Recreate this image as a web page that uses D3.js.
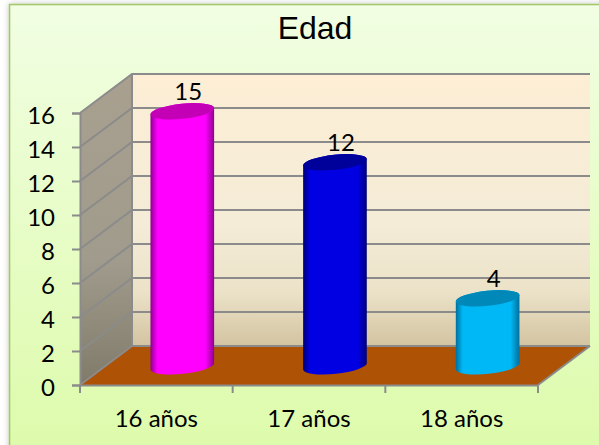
<!DOCTYPE html>
<html>
<head>
<meta charset="utf-8">
<script src="https://cdn.jsdelivr.net/npm/d3@7"></script>
<style>
    html, body { margin: 0; padding: 0; background: #fff; }
    svg { display: block; }
    text { font-family: Lato, "Open Sans", sans-serif; fill: #000; }
</style>
</head>
<body>
<svg id="chart" width="599" height="445"></svg>
<script>
const categories = ["16 años", "17 años", "18 años"];
const values = [15, 12, 4];
const tickValues = [0, 2, 4, 6, 8, 10, 12, 14, 16];
const barColors = [
    { edge: "#8e008e", mid: "#ff00ff", top: "#c400b6" },
    { edge: "#000078", mid: "#0000e2", top: "#00009a" },
    { edge: "#006f9c", mid: "#00b8f6", top: "#0088b8" }
];

const svg = d3.select("#chart");
const defs = svg.append("defs");

// Oblique projection: the back wall is the front plane moved by this offset
const DEPTH_X = 52;
const DEPTH_Y = -39;
const BAR_DEPTH = 0.48;
const BAR_RX = 32;
const BAR_RY = 7.5;
const TILT = -6;

const x = d3.scaleBand().domain(categories).range([80, 538]);
const y = d3.scaleLinear().domain([0, 16]).range([385, 113]);

function verticalGradient(id, stops) {
    const g = defs.append("linearGradient").attr("id", id)
        .attr("x1", 0).attr("y1", 0).attr("x2", 0).attr("y2", 1);
    stops.forEach(([o, col]) => g.append("stop").attr("offset", o).attr("stop-color", col));
}

verticalGradient("chart-bg", [[0, "#f1fee3"], [1, "#dcfba8"]]);
verticalGradient("back-wall", [[0, "#fdeed5"], [0.55, "#f4ecd7"], [0.8, "#ebe2c8"], [1, "#d3c4a1"]]);
verticalGradient("side-wall", [[0, "#a9a08f"], [0.6, "#a09b8c"], [1, "#807b69"]]);

barColors.forEach((c, i) => {
    const g = defs.append("linearGradient").attr("id", `bar-${i}`);
    [[0, c.edge], [0.11, c.mid], [0.86, c.mid], [1, c.edge]].forEach(([o, col]) => {
        g.append("stop").attr("offset", o).attr("stop-color", col);
    });
});

const shadow = defs.append("filter").attr("id", "soft")
    .attr("x", "-5%").attr("y", "-5%").attr("width", "110%").attr("height", "110%");
shadow.append("feDropShadow").attr("dx", 0).attr("dy", 0)
    .attr("stdDeviation", 3).attr("flood-color", "#000").attr("flood-opacity", 0.22);

// Chart area, runs off the right and bottom of the picture
svg.append("rect")
    .attr("x", 9.5).attr("y", 4.5).attr("width", 620).attr("height", 470)
    .attr("fill", "url(#chart-bg)")
    .attr("stroke", "#a6c66c").attr("stroke-width", 1.6)
    .attr("filter", "url(#soft)");

const left = x.range()[0];
const right = x.range()[1];

// Walls and floor
svg.append("rect")
    .attr("x", left + DEPTH_X).attr("y", y(16) + DEPTH_Y)
    .attr("width", right - left).attr("height", y(0) - y(16))
    .attr("fill", "url(#back-wall)");

svg.append("path")
    .attr("d", d3.line()([
        [left, y(0)], [left, y(16)],
        [left + DEPTH_X, y(16) + DEPTH_Y], [left + DEPTH_X, y(0) + DEPTH_Y]
    ]) + "Z")
    .attr("fill", "url(#side-wall)");

svg.append("path")
    .attr("d", d3.line()([
        [left, y(0)], [right, y(0)],
        [right + DEPTH_X, y(0) + DEPTH_Y], [left + DEPTH_X, y(0) + DEPTH_Y]
    ]) + "Z")
    .attr("fill", "#ae5206");

// Gridlines along the side wall and back wall
const grid = svg.append("g")
    .attr("fill", "none").attr("stroke", "#8b8b8b").attr("stroke-width", 2);

tickValues.forEach(v => {
    grid.append("path").attr("d", d3.line()([
        [left, y(v)],
        [left + DEPTH_X, y(v) + DEPTH_Y],
        [right + DEPTH_X, y(v) + DEPTH_Y]
    ]));
});
grid.append("path").attr("d", d3.line()([
    [left + DEPTH_X, y(0) + DEPTH_Y], [left + DEPTH_X, y(16) + DEPTH_Y]
]));
grid.append("path").attr("d", d3.line()([
    [right, y(0)], [right + DEPTH_X, y(0) + DEPTH_Y]
]));

// Axes
const yAxis = svg.append("g")
    .attr("transform", `translate(${left},0)`)
    .call(d3.axisLeft(y).tickValues(tickValues).tickSize(8).tickPadding(17));

const xAxis = svg.append("g")
    .attr("transform", `translate(0,${y(0)})`)
    .call(d3.axisBottom(x).tickSize(0).tickPadding(25));

[yAxis, xAxis].forEach(a => {
    a.select(".domain").attr("stroke", "#8b8b8b").attr("stroke-width", 2);
    a.selectAll(".tick line").attr("stroke", "#8b8b8b").attr("stroke-width", 2);
    a.selectAll("text").attr("font-family", null).attr("font-size", 24).style("fill", "#000");
});
yAxis.selectAll("text").attr("dy", "0.42em");

// Category separators below the floor
svg.append("g").selectAll("line")
    .data(d3.range(categories.length + 1))
    .join("line")
    .attr("x1", i => left + i * x.bandwidth())
    .attr("x2", i => left + i * x.bandwidth())
    .attr("y1", y(0))
    .attr("y2", y(0) + 8)
    .attr("stroke", "#8b8b8b").attr("stroke-width", 2);

// Cylinders
const barCenter = d => x(d) + x.bandwidth() / 2 + DEPTH_X * BAR_DEPTH + 1;
const dropY = DEPTH_Y * BAR_DEPTH;
const endDx = BAR_RX * Math.cos(TILT * Math.PI / 180);
const endDy = BAR_RX * Math.sin(TILT * Math.PI / 180);

const bars = svg.append("g").selectAll("g")
    .data(categories)
    .join("g");

bars.append("path")
    .attr("fill", (d, i) => `url(#bar-${i})`)
    .attr("d", (d, i) => {
        const cx = barCenter(d);
        const yTop = y(values[i]) + dropY;
        const yBase = y(0) + dropY;
        return `M${cx - endDx},${yTop - endDy}L${cx - endDx},${yBase - endDy}` +
            `A${BAR_RX},${BAR_RY} ${TILT} 0 0 ${cx + endDx},${yBase + endDy}` +
            `L${cx + endDx},${yTop + endDy}` +
            `A${BAR_RX},${BAR_RY} ${TILT} 0 0 ${cx - endDx},${yTop - endDy}Z`;
    });

bars.append("ellipse")
    .attr("rx", BAR_RX).attr("ry", BAR_RY)
    .attr("fill", (d, i) => barColors[i].top)
    .attr("transform", (d, i) =>
        `translate(${barCenter(d)},${y(values[i]) + dropY}) rotate(${TILT})`);

bars.append("text")
    .attr("x", d => barCenter(d) + 6)
    .attr("y", (d, i) => y(values[i]) + dropY - 20)
    .attr("dy", "0.36em")
    .attr("text-anchor", "middle")
    .attr("font-size", 24)
    .text((d, i) => values[i]);

svg.append("text")
    .attr("x", 315).attr("y", 39)
    .attr("text-anchor", "middle")
    .style("font-family", '"Liberation Sans", Arial, sans-serif')
    .attr("font-size", 32)
    .text("Edad");
</script>
</body>
</html>
